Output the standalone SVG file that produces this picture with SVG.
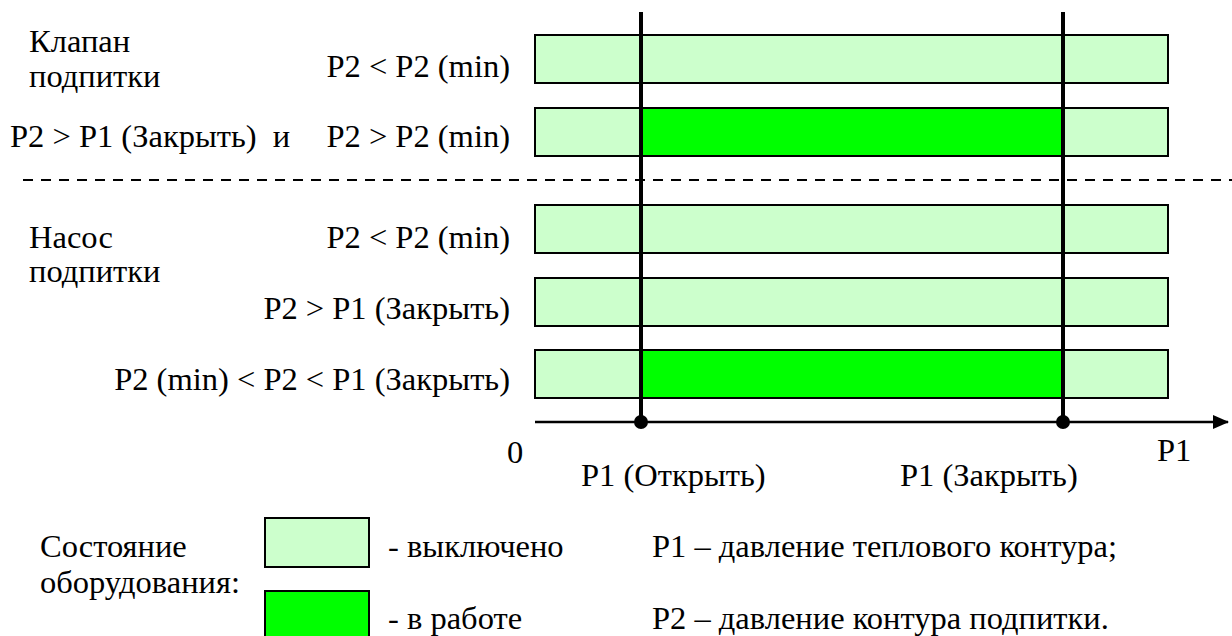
<svg xmlns="http://www.w3.org/2000/svg" width="1232" height="636" viewBox="0 0 1232 636">
<defs>
<style>
text{font-family:'Liberation Serif','Times New Roman',serif;font-size:32.5px;fill:#000}
.r{text-anchor:end}
.off{fill:#CCFFCC;stroke:#000;stroke-width:2}
.on{fill:#00FF00;stroke:#000;stroke-width:2}
.v{stroke:#000;stroke-width:4}
</style>
<marker id="arr" markerWidth="16" markerHeight="14" refX="15" refY="7" orient="auto" markerUnits="userSpaceOnUse">
<path d="M0,0 L16,7 L0,14 z" fill="#000"/>
</marker>
</defs>
<rect width="1232" height="636" fill="#fff"/>

<g id="labels-valve">
<text x="29" y="52">Клапан</text>
<text x="29" y="87">подпитки</text>
<text class="r" x="510" y="77">P2 &lt; P2 (min)</text>
<text x="10" y="147" xml:space="preserve">P2 &gt; P1 (Закрыть)  и</text>
<text class="r" x="510" y="147">P2 &gt; P2 (min)</text>
</g>

<g id="labels-pump">
<text x="29" y="248">Насос</text>
<text x="29" y="282">подпитки</text>
<text class="r" x="510" y="248">P2 &lt; P2 (min)</text>
<text class="r" x="510" y="319">P2 &gt; P1 (Закрыть)</text>
<text class="r" x="510" y="390">P2 (min) &lt; P2 &lt; P1 (Закрыть)</text>
</g>

<g id="bar1"><rect class="off" x="535" y="35" width="633" height="48"/></g>
<g id="bar2"><rect class="off" x="535" y="108" width="633" height="48"/><rect class="on" x="641" y="108" width="422" height="48"/></g>
<g id="bar3"><rect class="off" x="535" y="205" width="633" height="48"/></g>
<g id="bar4"><rect class="off" x="535" y="278" width="633" height="48"/></g>
<g id="bar5"><rect class="off" x="535" y="350" width="633" height="48"/><rect class="on" x="641" y="350" width="422" height="48"/></g>

<g id="connectors">
<line x1="23" y1="180" x2="1232" y2="180" stroke="#000" stroke-width="2" stroke-dasharray="10 8"/>
<line x1="535" y1="422" x2="1228" y2="422" stroke="#000" stroke-width="2.5" marker-end="url(#arr)"/>
<line class="v" x1="641" y1="12" x2="641" y2="422"/>
<line class="v" x1="1063" y1="12" x2="1063" y2="422"/>
<circle cx="641" cy="422" r="7" fill="#000"/>
<circle cx="1063" cy="422" r="7" fill="#000"/>
</g>

<g id="axis-labels">
<text x="507" y="463">0</text>
<text x="1157" y="461">P1</text>
<text x="581" y="486">P1 (Открыть)</text>
<text x="900" y="486">P1 (Закрыть)</text>
</g>

<g id="legend">
<text x="40" y="557">Состояние</text>
<text x="40" y="593">оборудования:</text>
<rect class="off" x="265" y="518" width="104" height="49"/>
<rect class="on" x="265" y="591" width="104" height="50"/>
<text x="388" y="557">- выключено</text>
<text x="388" y="629">- в работе</text>
<text x="652" y="557">P1 – давление теплового контура;</text>
<text x="652" y="629">P2 – давление контура подпитки.</text>
</g>
</svg>
